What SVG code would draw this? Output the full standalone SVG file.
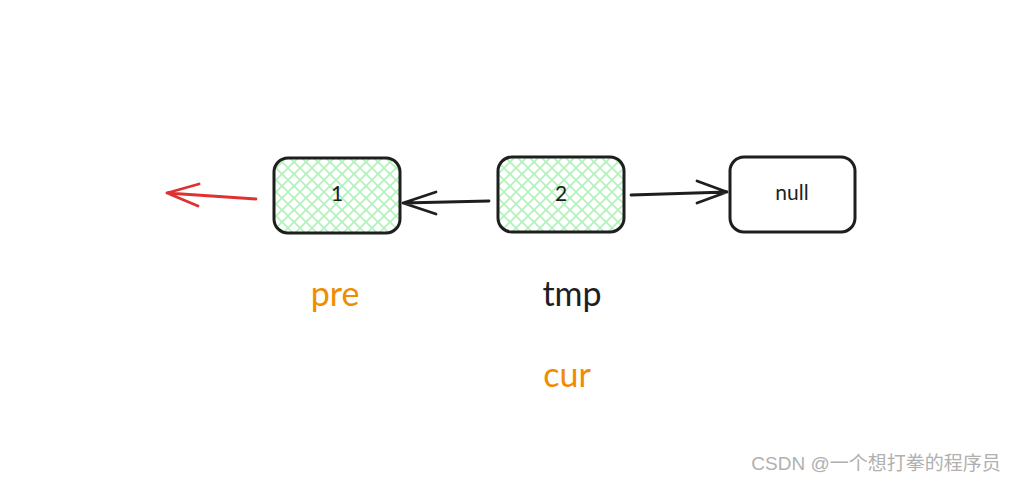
<svg xmlns="http://www.w3.org/2000/svg" width="1017" height="481" viewBox="0 0 1017 481">
<defs>
<pattern id="hatch" patternUnits="userSpaceOnUse" width="12" height="12">
<path d="M-1,13 L13,-1 M-1,1 L1,-1 M11,13 L13,11" stroke="#b2f2bb" stroke-width="1.7"/>
<path d="M-1,-1 L13,13 M11,-1 L13,1 M-1,11 L1,13" stroke="#b2f2bb" stroke-width="1.7"/>
</pattern>
<style>
.box{stroke:#1e1e1e;stroke-width:3;}
.lbl{font-family:"Lato","Liberation Sans",sans-serif;font-size:21px;fill:#1e1e1e;text-anchor:middle;}
.big{font-family:"Lato","Liberation Sans",sans-serif;font-size:34px;text-anchor:middle;}
.edge{fill:none;stroke-width:2.8;stroke-linecap:round;stroke-linejoin:round;}
</style>
</defs>
<rect width="1017" height="481" fill="#ffffff"/>
<g id="node1">
<rect x="274" y="158" width="126" height="75" rx="14" fill="url(#hatch)" class="box"/>
<text x="337" y="201" class="lbl">1</text>
</g>
<g id="node2">
<rect x="498" y="157" width="126" height="75" rx="14" fill="url(#hatch)" class="box"/>
<text x="561" y="201" class="lbl">2</text>
</g>
<g id="nodenull">
<rect x="730" y="157" width="125" height="75" rx="14" fill="#ffffff" class="box"/>
<text x="792" y="200" class="lbl">null</text>
</g>
<g id="connectors">
<path class="edge" stroke="#1e1e1e" d="M489,201 L403,203 M436,192 L403,203 L436,214"/>
<path class="edge" stroke="#1e1e1e" stroke-width="4" d="M631,195 L727,192 M697,181 L727,192 L697,203"/>
<path class="edge" stroke="#e03131" d="M256,199 L167,193 M199,184 L167,193 L198,206"/>
</g>
<g id="labels">
<text x="335" y="306" class="big" fill="#f08c00">pre</text>
<text x="572" y="306" class="big" fill="#1e1e1e">tmp</text>
<text x="567" y="387" class="big" fill="#f08c00">cur</text>
</g>
<text x="876" y="470" font-family="'Liberation Sans','Noto Sans CJK SC',sans-serif" font-size="19" fill="#b0b0b0" text-anchor="middle">CSDN @一个想打拳的程序员</text>
</svg>
